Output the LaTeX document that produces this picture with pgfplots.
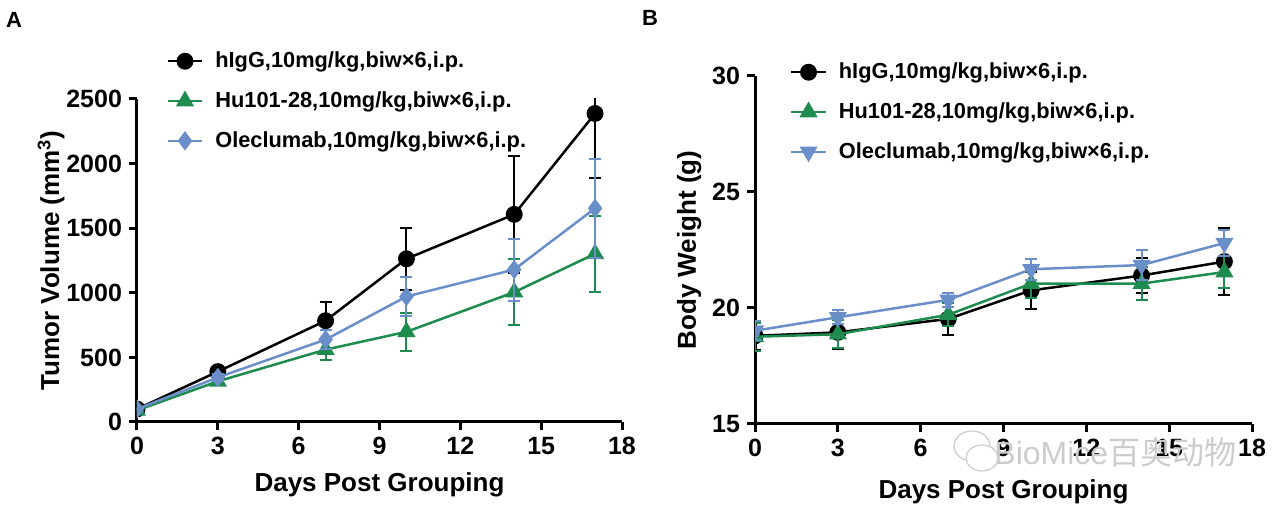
\documentclass[border=0pt]{standalone}
\usepackage{fontspec}
\setmainfont{Liberation Sans}
\newfontfamily\cjk{Noto Sans CJK SC}
\usepackage{pgfplots}
\pgfplotsset{compat=1.18}
\definecolor{cgreen}{RGB}{30,140,78}
\definecolor{cblue}{RGB}{106,143,200}
\pgfplotsset{
 myax/.style={
  scale only axis, axis lines=left, axis line style={line width=1.5pt,-},
  tick style={line width=1.5pt,black}, major tick length=4pt, tick align=outside,
  xmin=0, xmax=18, xtick={0,3,...,18},
  ticklabel style={font=\fontsize{12.5}{14}\selectfont\bfseries},
  label style={font=\fontsize{13}{15}\selectfont\bfseries},
  /pgf/number format/assume math mode=true,
  /pgf/number format/1000 sep={},
  clip marker paths=true,
  legend style={draw=none, fill=none, font=\fontsize{10.9}{12}\selectfont\bfseries, row sep=6.5pt, column sep=4pt},
  legend cell align=left,
  every axis plot/.append style={line width=1.25pt},
 },
 eb/.style={error bars/.cd, y dir=both, y explicit,
  error bar style={line width=1pt},
  error mark options={rotate=90, mark size=3pt, line width=1pt}},
}
\begin{document}
\begin{tikzpicture}
\path[use as bounding box] (0,0) rectangle (640pt,254pt);
\node[font=\fontsize{11}{12}\selectfont\bfseries] at (7pt,244pt) {A};
\node[font=\fontsize{11}{12}\selectfont\bfseries] at (325pt,245pt) {B};
\begin{axis}[myax, at={(68.5pt,43pt)}, anchor=south west,
  width=242.5pt, height=161.5pt,
  ymin=0, ymax=2500, ytick={0,500,...,2500},
  xlabel={Days Post Grouping}, ylabel={Tumor Volume (mm\textsuperscript{3})},
  xlabel shift=2pt, ylabel shift=-6pt,
  legend style={at={(rel axis cs:0.048,1.172)}, anchor=north west}]
\addplot[black, mark=*, mark size=3.6pt, eb] coordinates {
 (0,100) +- (0,15) (3,390) +- (0,30) (7,784) +- (0,143) (10,1263) +- (0,242) (14,1607) +- (0,455) (17,2388) +- (0,500)};
\addlegendentry{hIgG,10mg/kg,biw×6,i.p.}
\addplot[cgreen, mark=triangle*, mark size=4pt, eb] coordinates {
 (0,90) +- (0,10) (3,315) +- (0,25) (7,560) +- (0,78) (10,698) +- (0,149) (14,1005) +- (0,255) (17,1302) +- (0,292)};
\addlegendentry{Hu101-28,10mg/kg,biw×6,i.p.}
\addplot[cblue, mark=diamond*, mark size=3.8pt, eb] coordinates {
 (0,100) +- (0,10) (3,345) +- (0,25) (7,638) +- (0,73) (10,971) +- (0,151) (14,1180) +- (0,240) (17,1654) +- (0,385)};
\addlegendentry{Oleclumab,10mg/kg,biw×6,i.p.}
\end{axis}
\begin{axis}[myax, at={(377.5pt,42pt)}, anchor=south west,
  width=248.5pt, height=174pt,
  ymin=15, ymax=30, ytick={15,20,25,30},
  xlabel={Days Post Grouping}, ylabel={Body Weight (g)},
  xlabel shift=4.5pt, ylabel shift=-1.5pt,
  legend style={at={(rel axis cs:0.058,1.062)}, anchor=north west}]
\addplot[black, mark=*, mark size=3.6pt, eb] coordinates {
 (0,18.80) +- (0,0.6) (3,18.95) +- (0,0.7) (7,19.53) +- (0,0.7) (10,20.76) +- (0,0.8) (14,21.40) +- (0,0.75) (17,22.00) +- (0,1.45)};
\addlegendentry{hIgG,10mg/kg,biw×6,i.p.}
\addplot[cgreen, mark=triangle*, mark size=4pt, eb] coordinates {
 (0,18.76) +- (0,0.6) (3,18.87) +- (0,0.6) (7,19.71) +- (0,0.5) (10,21.05) +- (0,0.6) (14,21.05) +- (0,0.7) (17,21.55) +- (0,0.7)};
\addlegendentry{Hu101-28,10mg/kg,biw×6,i.p.}
\addplot[cblue, mark=triangle*, mark options={rotate=180}, mark size=4pt, eb] coordinates {
 (0,19.02) +- (0,0.4) (3,19.60) +- (0,0.3) (7,20.35) +- (0,0.3) (10,21.67) +- (0,0.45) (14,21.85) +- (0,0.65) (17,22.80) +- (0,0.55)};
\addlegendentry{Oleclumab,10mg/kg,biw×6,i.p.}
\end{axis}
\draw[gray!40, line width=0.6pt] (486pt,31pt) ellipse (9pt and 7.5pt);
\draw[gray!40, line width=0.6pt, fill=white] (491pt,25pt) ellipse (8pt and 6.5pt);
\node[anchor=west, text=gray!40, font=\fontsize{16}{18}\selectfont, inner sep=0pt] at (497pt,28pt) {BioMice{\cjk 百奥动物}};
\end{tikzpicture}
\end{document}
